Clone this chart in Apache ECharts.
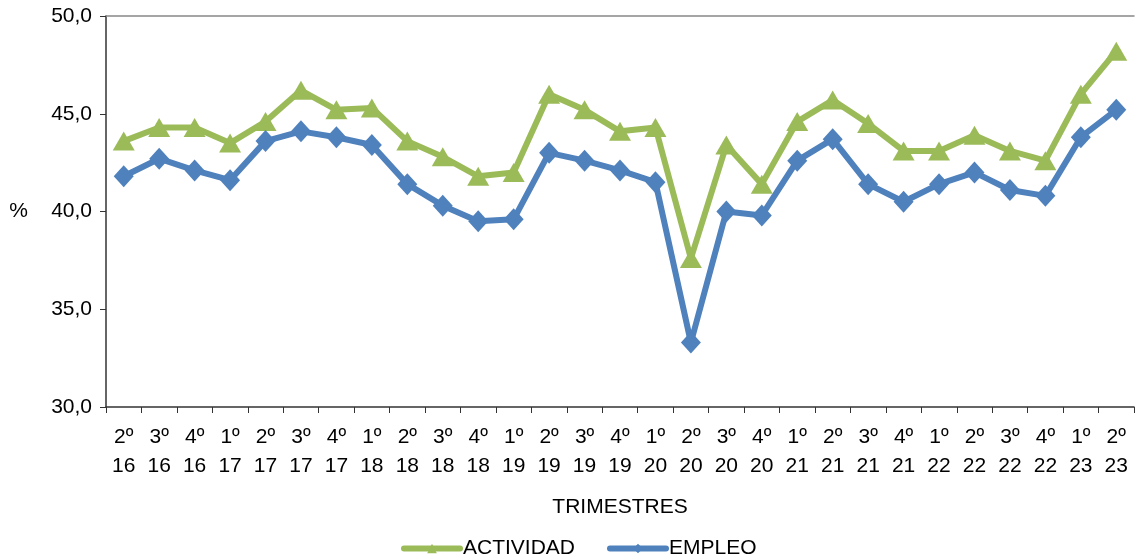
<!DOCTYPE html>
<html>
<head>
<meta charset="utf-8">
<script src="https://cdn.jsdelivr.net/npm/echarts@6/dist/echarts.min.js"></script>
<style>
  html, body { margin: 0; padding: 0; background: #fff; }
  #chart { width: 1138px; height: 559px; }
</style>
</head>
<body>
<div id="chart"></div>
<script>
// trimestres (trimestre / año)
var quarters = ['2º','3º','4º','1º','2º','3º','4º','1º','2º','3º','4º','1º','2º','3º','4º','1º','2º','3º','4º','1º','2º','3º','4º','1º','2º','3º','4º','1º','2º'];
var years = ['16','16','16','17','17','17','17','18','18','18','18','19','19','19','19','20','20','20','20','21','21','21','21','22','22','22','22','23','23'];

var actividad = [43.6, 44.3, 44.3, 43.5, 44.6, 46.2, 45.2, 45.3, 43.6, 42.8, 41.8, 42.0, 46.0, 45.2, 44.1, 44.3, 37.6, 43.4, 41.4, 44.6, 45.7, 44.5, 43.1, 43.1, 43.9, 43.1, 42.6, 46.0, 48.2];
var empleo    = [41.8, 42.7, 42.1, 41.6, 43.6, 44.1, 43.8, 43.4, 41.4, 40.3, 39.5, 39.6, 43.0, 42.6, 42.1, 41.5, 33.3, 40.0, 39.8, 42.6, 43.7, 41.4, 40.5, 41.4, 42.0, 41.1, 40.8, 43.8, 45.2];

var categories = quarters.map(function (q, i) { return q + '\n' + years[i]; });

var font = 'Liberation Sans, Arial, sans-serif';
var chart = echarts.init(document.getElementById('chart'));

var option = {
  animation: false,
  textStyle: { fontFamily: font },
  grid: { left: 106, right: 4, top: 16, bottom: 152, containLabel: false },
  legend: {
    bottom: 0,
    left: 401,
    padding: 0,
    itemWidth: 56,
    itemHeight: 12,
    itemGap: 32,
    textStyle: { fontSize: 21, color: '#000', fontFamily: font, padding: [0, 0, 0, -2] },
    lineStyle: { width: 6, cap: 'round' },
    data: ['ACTIVIDAD', 'EMPLEO']
  },
  xAxis: [{
    type: 'category',
    data: categories,
    boundaryGap: true,
    name: 'TRIMESTRES',
    nameLocation: 'middle',
    nameGap: 90,
    nameTextStyle: { fontSize: 21, color: '#000' },
    axisLine: { lineStyle: { color: '#333333', width: 1.5 } },
    axisTick: { show: true, length: 6, lineStyle: { color: '#333333' } },
    axisLabel: { fontSize: 21, color: '#000', lineHeight: 29, margin: 16, interval: 0 }
  }, {
    type: 'category',
    position: 'top',
    data: categories,
    axisLine: { show: true, lineStyle: { color: '#888888', width: 1.5 } },
    axisTick: { show: false },
    axisLabel: { show: false }
  }],
  yAxis: {
    type: 'value',
    min: 30,
    max: 50,
    interval: 5,
    name: '%',
    nameLocation: 'middle',
    nameGap: 78,
    nameRotate: 0,
    nameTextStyle: { fontSize: 21, color: '#000', padding: [8, 0, 0, 0] },
    axisLine: { show: true, lineStyle: { color: '#333333', width: 1.5 } },
    axisTick: { show: true, length: 6, lineStyle: { color: '#333333' } },
    splitLine: { show: false },
    axisLabel: {
      fontSize: 21, color: '#000', margin: 14,
      formatter: function (v) { return v.toFixed(1).replace('.', ','); }
    }
  },
  series: [{
    name: 'ACTIVIDAD',
    type: 'line',
    data: actividad,
    symbol: 'triangle',
    symbolSize: [22, 19],
    lineStyle: { color: '#9BBB59', width: 6 },
    itemStyle: { color: '#9BBB59' }
  }, {
    name: 'EMPLEO',
    type: 'line',
    data: empleo,
    symbol: 'diamond',
    symbolSize: [20, 22],
    lineStyle: { color: '#4F81BD', width: 6 },
    itemStyle: { color: '#4F81BD' }
  }]
};
chart.setOption(option);
</script>
</body>
</html>
